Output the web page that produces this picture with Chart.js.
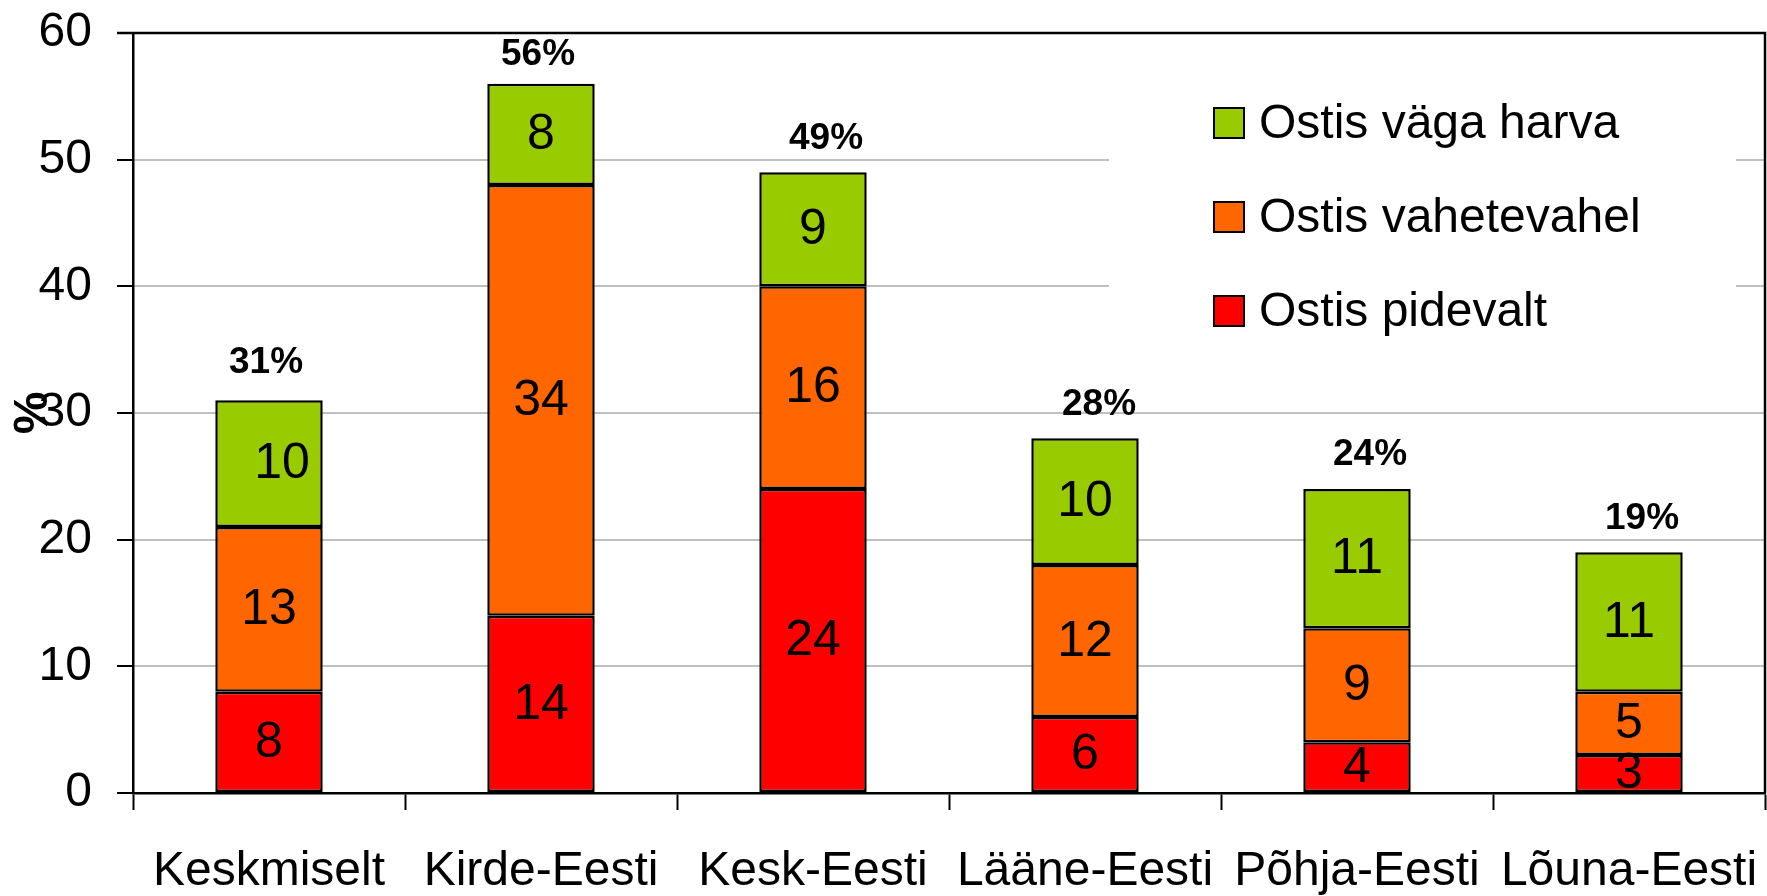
<!DOCTYPE html>
<html>
<head>
<meta charset="utf-8">
<script src="https://cdn.jsdelivr.net/npm/chart.js@4.4.1/dist/chart.umd.min.js"></script>
<style>
  html, body { margin: 0; padding: 0; background: #fff; }
  #wrap { width: 1767px; height: 896px; }
</style>
</head>
<body>
<div id="wrap"><canvas id="c" width="1767" height="896"></canvas></div>
<script>
// ---- data ----
const categories = ['Keskmiselt', 'Kirde-Eesti', 'Kesk-Eesti', 'Lääne-Eesti', 'Põhja-Eesti', 'Lõuna-Eesti'];
const pidevalt    = [8, 14, 24, 6, 4, 3];
const vahetevahel = [13, 34, 16, 12, 9, 5];
const vagaHarva   = [10, 8, 9, 10, 11, 11];
const totals      = [31, 56, 49, 28, 24, 19];
const seriesNames = ['Ostis pidevalt', 'Ostis vahetevahel', 'Ostis väga harva'];
const yTickValues = [0, 10, 20, 30, 40, 50, 60];

// ---- style ----
const FONT = '"Liberation Sans", Arial, Helvetica, sans-serif';
const colors = ['#FF0000', '#FF6600', '#99CC00'];
const segLabelNudge = { '2:0': 13 };            // dx for individual segment labels
const totalNudge = [{dx: -3, dy: -4}, {dx: -3, dy: 0}, {dx: 13, dy: 0}, {dx: 14, dy: 0}, {dx: 13, dy: 0}, {dx: 13, dy: 0}];

Chart.defaults.font.family = FONT;
Chart.defaults.color = '#000';

const labelsPlugin = {
  id: 'labels',
  afterDatasetsDraw(chart) {
    const ctx = chart.ctx;
    ctx.save();
    ctx.fillStyle = '#000';
    ctx.textAlign = 'center';
    ctx.textBaseline = 'middle';
    ctx.font = '50px ' + FONT;
    chart.data.datasets.forEach((ds, di) => {
      const meta = chart.getDatasetMeta(di);
      meta.data.forEach((bar, i) => {
        const dx = segLabelNudge[di + ':' + i] || 0;
        const cy = (bar.y + bar.base) / 2;
        ctx.fillText(String(ds.data[i]), bar.x + dx, cy + 1);
      });
    });
    // totals
    ctx.font = 'bold 37px ' + FONT;
    const ys = chart.scales.y;
    const meta0 = chart.getDatasetMeta(0);
    totals.forEach((t, i) => {
      const x = meta0.data[i].x + totalNudge[i].dx;
      let y = ys.getPixelForValue(t) - 34;
      y = Math.max(y, chart.chartArea.top + 22) + totalNudge[i].dy;
      ctx.fillText(t + '%', x, y);
    });
    ctx.restore();
  },
  afterDraw(chart) {
    const ctx = chart.ctx;
    const ca = chart.chartArea;
    ctx.save();
    // plot border (top & right)
    ctx.strokeStyle = '#000';
    ctx.lineWidth = 2.5;
    ctx.beginPath();
    ctx.moveTo(ca.left - 16, ca.top);
    ctx.lineTo(ca.right, ca.top);
    ctx.lineTo(ca.right, ca.bottom);
    ctx.stroke();
    // legend box
    ctx.fillStyle = '#fff';
    ctx.fillRect(1109, 70, 627, 290);
    ctx.font = '48px ' + FONT;
    ctx.textAlign = 'left';
    ctx.textBaseline = 'middle';
    const order = [2, 1, 0];
    order.forEach((di, k) => {
      const ds = chart.data.datasets[di];
      const top = 108 + k * 94;
      ctx.fillStyle = ds.backgroundColor;
      ctx.fillRect(1214, top, 30, 30);
      ctx.lineWidth = 2;
      ctx.strokeStyle = '#000';
      ctx.strokeRect(1214, top, 30, 30);
      ctx.fillStyle = '#000';
      ctx.fillText(ds.label, 1259, top + 17);
    });
    ctx.restore();
  }
};

new Chart(document.getElementById('c'), {
  type: 'bar',
  data: {
    labels: categories,
    datasets: [
      { label: seriesNames[0], data: pidevalt,    backgroundColor: colors[0] },
      { label: seriesNames[1], data: vahetevahel, backgroundColor: colors[1] },
      { label: seriesNames[2], data: vagaHarva,   backgroundColor: colors[2] }
    ].map(d => Object.assign(d, {
      borderColor: '#000', borderWidth: 2.5, borderSkipped: false,
      categoryPercentage: 1.0, barPercentage: 0.395
    }))
  },
  options: {
    responsive: false,
    animation: false,
    devicePixelRatio: 1,
    layout: { padding: { top: 33, right: 2, left: 0, bottom: 0 } },
    plugins: { legend: { display: false }, tooltip: { enabled: false } },
    scales: {
      x: {
        stacked: true,
        afterFit: s => { s.height = 103; s.paddingLeft = 0; s.paddingRight = 0; },
        grid: { display: true, drawOnChartArea: false, drawTicks: true, tickLength: 17, tickColor: '#000', tickWidth: 2, offset: true },
        border: { display: true, color: '#000', width: 2.5 },
        ticks: { font: { size: 48 }, color: '#000', padding: 33, maxRotation: 0, autoSkip: false }
      },
      y: {
        stacked: true,
        min: 0, max: 60,
        afterFit: s => { s.width = 133; s.paddingTop = 0; s.paddingBottom = 0; },
        afterBuildTicks: s => { s.ticks = yTickValues.map(v => ({ value: v })); },
        grid: {
          color: c => (c.tick && (c.tick.value === 0 || c.tick.value === 60)) ? '#000' : '#c0c0c0',
          lineWidth: 2, tickLength: 16, tickColor: '#000', tickWidth: 2
        },
        border: { display: true, color: '#000', width: 2.5 },
        ticks: { font: { size: 48 }, color: '#000', padding: 25 },
        title: { display: true, text: '%', font: { size: 48, weight: 'bold' }, color: '#000', padding: { top: 5, bottom: 0 } }
      }
    }
  },
  plugins: [labelsPlugin]
});
</script>
</body>
</html>
